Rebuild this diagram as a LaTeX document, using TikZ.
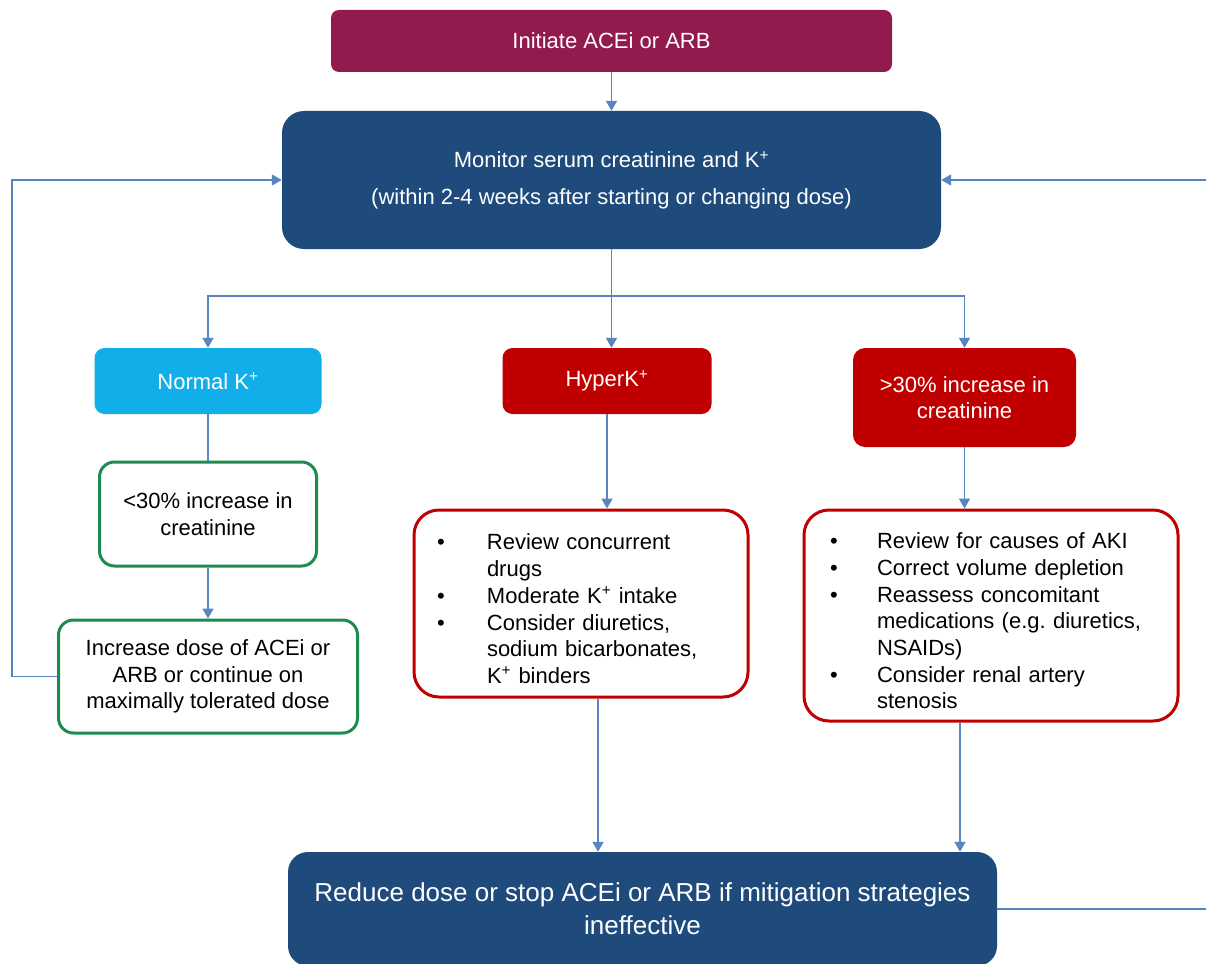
\documentclass[tikz,border=0pt]{standalone}
\usepackage{fontspec}
\setmainfont{Liberation Sans}
\usetikzlibrary{arrows.meta}
\definecolor{initc}{HTML}{931A4F}
\definecolor{monc}{HTML}{1F4A7C}
\definecolor{normc}{HTML}{12AEEA}
\definecolor{redc}{HTML}{C00000}
\definecolor{greenc}{HTML}{1E8C4E}
\definecolor{linec}{HTML}{5885C0}
\newcommand\kp{K\textsuperscript{+}}
\newcommand\nl{\hfil\break}
\newcommand\bitem[2]{\par\noindent\hangindent=#1\hangafter=1\makebox[#1][l]{\textbullet}#2\par}
\frenchspacing
\begin{document}
\begin{tikzpicture}[x=1pt,y=-1pt,
  base/.style={rounded corners=#1, align=center, inner sep=0pt, font=\fontsize{22}{26.7}\selectfont},
  filledbox/.style={base=#1, text=white},
  greenbox/.style={base=#1, draw=greenc, line width=3pt, fill=white, text=black},
  redline/.style={rounded corners=25pt, draw=redc, line width=3pt, fill=white, text=black, inner ysep=0pt, font=\fontsize{22}{26.7}\selectfont},
  conn/.style={draw=linec, line width=1.6pt},
  arr/.style={conn, -{Triangle[width=11pt,length=10pt]}}
]
\useasboundingbox (0,0) rectangle (1206,963);
\fill[white] (0,0) rectangle (1206,963);

\node[filledbox=8pt, fill=initc, minimum width=561pt, minimum height=62pt] (init) at (611.5,41) {Initiate ACEi or ARB};
\node[filledbox=22pt, fill=monc, minimum width=659pt, minimum height=138pt] (mon) at (611.5,180)
  {Monitor serum creatinine and \kp\\[10pt](within 2-4 weeks after starting or changing dose)};

\node[filledbox=10pt, fill=normc, minimum width=227pt, minimum height=66pt] (normal) at (208,381) {Normal \kp};
\node[filledbox=10pt, fill=redc, minimum width=209pt, minimum height=66pt] (hyper) at (607,381) {Hyper\kp};
\node[filledbox=12pt, fill=redc, minimum width=223pt, minimum height=99pt] (cr30) at (964.5,397.5) {>30\% increase in\\creatinine};

\node[greenbox=15pt, minimum width=217pt, minimum height=104pt] (lt30) at (208,514) {<30\% increase in\\creatinine};
\node[greenbox=15pt, minimum width=299pt, minimum height=113pt] (incr) at (208,676.5)
  {Increase dose of ACEi or\\ARB or continue on\\maximally tolerated dose};

\node[redline, inner xsep=23pt, text width=288pt, minimum height=187pt] (hbul) at (581,603.5)
  {\bitem{50pt}{Review concurrent\nl drugs}\bitem{50pt}{Moderate \kp{} intake\hfil}\bitem{50pt}{Consider diuretics,\nl sodium bicarbonates,\nl \kp{} binders\hfil}};
\node[redline, inner xsep=26pt, text width=322pt, minimum height=211pt] (cbul) at (991,615.5)
  {\bitem{47pt}{Review for causes of AKI\hfil}\bitem{47pt}{Correct volume depletion\hfil}\bitem{47pt}{Reassess concomitant\nl medications (e.g. diuretics,\nl NSAIDs)\hfil}\bitem{47pt}{Consider renal artery\nl stenosis\hfil}};

\node[base=20pt, fill=monc, text=white, minimum width=709pt, minimum height=114pt, font=\fontsize{26}{33}\selectfont] (reduce) at (642.5,909)
  {Reduce dose or stop ACEi or ARB if mitigation strategies\\ineffective};

\coordinate (bus) at (612,296);
\coordinate (lloop) at (12,180);
\coordinate (rloop) at (1215,180);

\draw[arr] (init.south) -- (mon.north);
\draw[arr] (mon.south) -- (mon.south |- hyper.north);
\draw[arr] (bus) -| (normal.north);
\draw[arr] (bus) -| (cr30.north);
\draw[conn] (normal.south) -- (lt30.north);
\draw[arr] (lt30.south) -- (incr.north);
\draw[arr] (hyper.south) -- (hyper.south |- hbul.north);
\draw[arr] (cr30.south) -- (cr30.south |- cbul.north);
\draw[arr] ([xshift=17pt]hbul.south) -- ([xshift=17pt]hbul.south |- reduce.north);
\draw[arr] ([xshift=-31pt]cbul.south) -- ([xshift=-31pt]cbul.south |- reduce.north);
\draw[arr] (incr.west) -| (lloop) -- (mon.west);
\draw[arr] (reduce.east) -| (rloop) -- (mon.east);
\end{tikzpicture}
\end{document}
